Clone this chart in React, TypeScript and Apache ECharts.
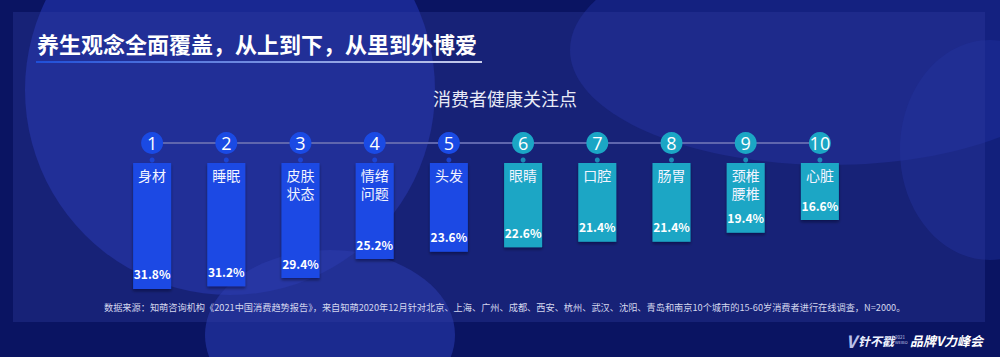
import React, { useEffect, useRef } from "react";
import * as echarts from "echarts";

const categories = ["身材", "睡眠", "皮肤\n状态", "情绪\n问题", "头发", "眼睛", "口腔", "肠胃", "颈椎\n腰椎", "心脏"];
const values = [31.8, 31.2, 29.4, 25.2, 23.6, 22.6, 21.4, 21.4, 19.4, 16.6];
const ranks = ["1", "2", "3", "4", "5", "6", "7", "8", "9", "10"];

const TITLE = "养生观念全面覆盖，从上到下，从里到外博爱";
const CHART_TITLE = "消费者健康关注点";
const SOURCE =
  "数据来源：知萌咨询机构《2021中国消费趋势报告》，来自知萌2020年12月针对北京、上海、广州、成都、西安、杭州、武汉、沈阳、青岛和南京10个城市的15-60岁消费者进行在线调查，N=2000。";

const BLUE = "#1a4ae4";
const TEAL = "#1ba6c5";
const colorAt = (i: number) => (i < 5 ? BLUE : TEAL);
const FONT = "'Noto Sans CJK SC', 'Noto Sans', sans-serif";

export default function App() {
  const ref = useRef<HTMLDivElement>(null);
  useEffect(() => {
    if (!ref.current) return;
    const chart = echarts.init(ref.current, undefined, { renderer: "svg" });
    const left = 115;
    const right = 143;
    chart.setOption({
      animation: false,
      backgroundColor: "#0a1462",
      textStyle: { fontFamily: FONT },
      graphic: [
        { type: "circle", z: -10, shape: { cx: 230, cy: 90, r: 205 }, style: { fill: "#1f30a6", opacity: 0.7 } },
        { type: "ellipse", z: -10, shape: { cx: 330, cy: 335, rx: 125, ry: 85 }, style: { fill: "#2a3cb4", opacity: 0.55 } },
        { type: "ellipse", z: -10, shape: { cx: 830, cy: 50, rx: 260, ry: 115 }, style: { fill: "#1d2e9e", opacity: 0.5 } },
        { type: "ellipse", z: -10, shape: { cx: 990, cy: 150, rx: 90, ry: 110 }, style: { fill: "#1d2e9e", opacity: 0.45 } },
        { type: "rect", z: -9, shape: { x: 13, y: 12, width: 972, height: 310 }, style: { fill: "rgba(48,60,160,0.35)" } },
        {
          type: "text", left: 37, top: 32,
          style: { text: TITLE, fill: "#ffffff", font: `bold 22px ${FONT}` },
        },
        {
          type: "rect", shape: { x: 36, y: 61, width: 446, height: 2 },
          style: {
            fill: new echarts.graphic.LinearGradient(0, 0, 1, 0, [
              { offset: 0, color: "#1f4fd8" },
              { offset: 1, color: "#c9cdea" },
            ]),
          },
        },
        {
          type: "text", x: 505, y: 98,
          style: { text: CHART_TITLE, fill: "#e8eaf6", font: `18px ${FONT}`, align: "center", verticalAlign: "middle" },
        },
        {
          type: "text", x: 104, y: 307,
          style: { text: SOURCE, fill: "#d4d7ee", font: `9.2px ${FONT}`, verticalAlign: "middle" },
        },
        { type: "text", x: 846, y: 340, style: { text: "V", fill: "#b9c0ea", font: `italic bold 17px ${FONT}`, verticalAlign: "middle" } },
        { type: "text", x: 858, y: 340, style: { text: "针不戳", fill: "#eef3ff", font: `italic bold 12px ${FONT}`, verticalAlign: "middle" } },
        { type: "text", x: 895, y: 337, style: { text: "2021", fill: "#c8cce8", font: `4.5px ${FONT}`, verticalAlign: "middle" } },
        { type: "text", x: 895, y: 342, style: { text: "WEIBO", fill: "#c8cce8", font: `4px ${FONT}`, verticalAlign: "middle" } },
        { type: "text", x: 983, y: 340, style: { text: "品牌V力峰会", fill: "#ffffff", font: `italic bold 13px ${FONT}`, align: "right", verticalAlign: "middle" } },
      ],
      grid: [
        { left, right, top: 163, bottom: 53.5 },
        { left, right, top: 133, height: 30 },
      ],
      xAxis: [
        {
          gridIndex: 0, type: "category", data: categories, position: "top", z: 10,
          axisLine: { show: false }, axisTick: { show: false },
          axisLabel: { inside: true, margin: 3, color: "#f2f4ff", fontSize: 14, lineHeight: 18, fontFamily: FONT, interval: 0 },
        },
        { gridIndex: 1, type: "category", data: categories, show: false },
      ],
      yAxis: [
        { gridIndex: 0, type: "value", inverse: true, min: 4, max: 35, show: false },
        { gridIndex: 1, type: "value", inverse: true, min: 0, max: 1, show: false },
      ],
      series: [
        {
          type: "bar", xAxisIndex: 0, yAxisIndex: 0, barWidth: 38, clip: true,
          data: values.map((v, i) => ({
            value: v,
            itemStyle: { color: colorAt(i), shadowColor: "rgba(0,0,20,0.45)", shadowBlur: 3, shadowOffsetY: 2 },
          })),
          label: {
            show: true, position: "insideBottom", distance: 9,
            formatter: (p: any) => `${p.value}%`,
            color: "#ffffff", fontWeight: "bold", fontSize: 12, fontFamily: FONT,
          },
        },
        {
          type: "line", xAxisIndex: 1, yAxisIndex: 1,
          data: ranks.map(() => 0.333),
          symbol: "circle", symbolSize: 22,
          lineStyle: { color: "#5f66ae", width: 2 },
          itemStyle: { color: (p: any) => colorAt(p.dataIndex) },
          label: {
            show: true, position: "inside",
            formatter: (p: any) => ranks[p.dataIndex],
            color: "#ffffff", fontSize: 18, fontFamily: "'Open Sans', 'Noto Sans', sans-serif",
          },
          z: 3,
        },
        {
          type: "scatter", xAxisIndex: 1, yAxisIndex: 1,
          data: ranks.map(() => 0.9),
          symbol: "circle", symbolSize: 5,
          itemStyle: { color: (p: any) => colorAt(p.dataIndex) },
        },
      ],
    });
    return () => chart.dispose();
  }, []);
  return <div ref={ref} style={{ position: "absolute", left: 0, top: 0, width: 1000, height: 357 }} />;
}
